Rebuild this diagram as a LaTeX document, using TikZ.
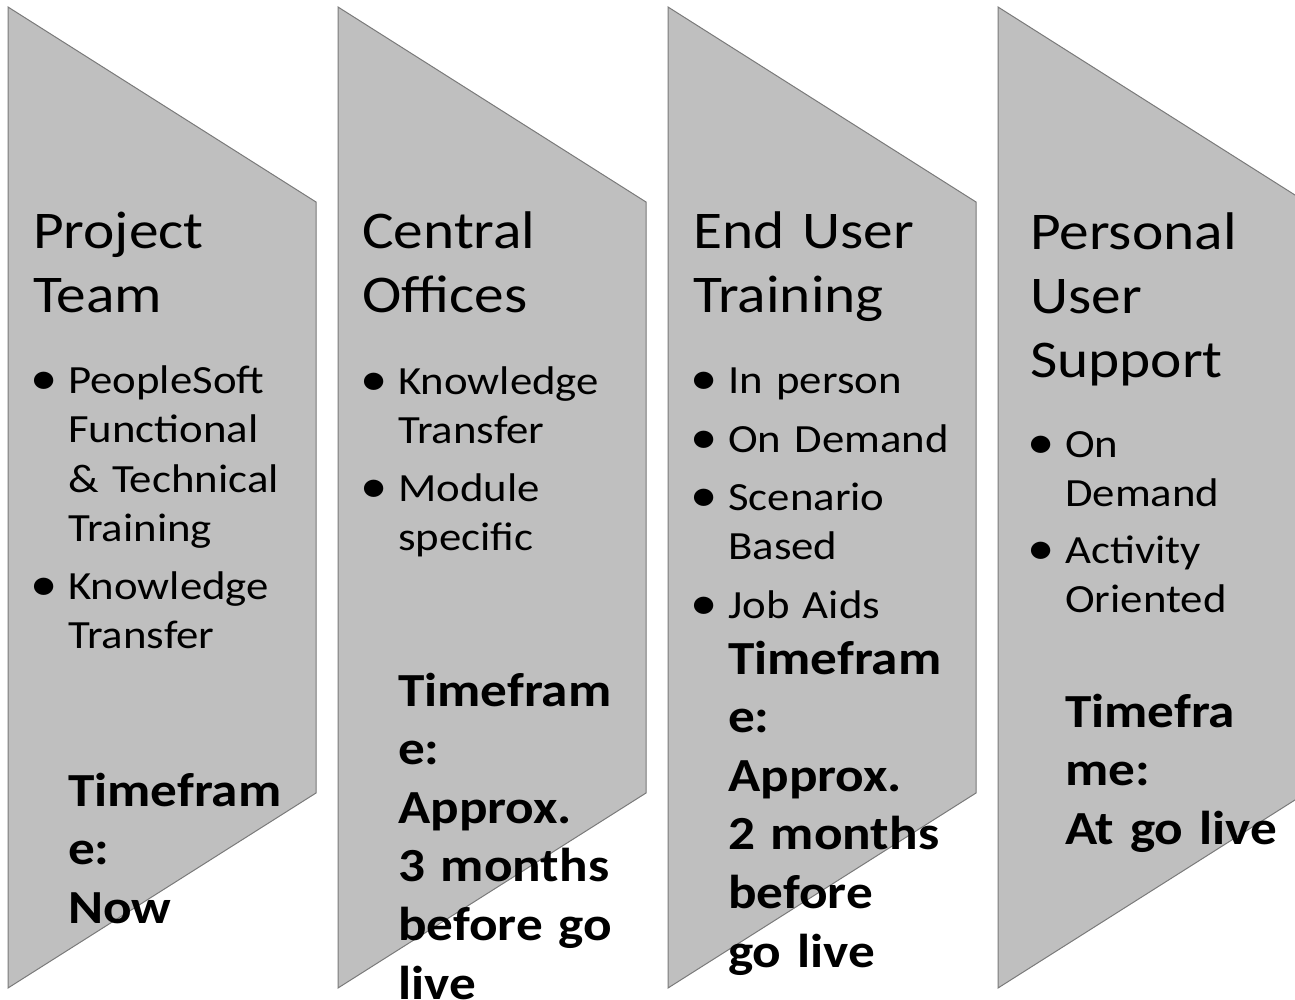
\documentclass[tikz,border=0pt]{standalone}
\usepackage{graphicx}
\usepackage{fontspec}
\setmainfont{Carlito}[FakeStretch=1.12, WordSpace=0.72]
\definecolor{chevfill}{HTML}{BFBFBF}
\definecolor{chevline}{HTML}{7A7A7A}
\tikzset{
  chev/.style={fill=chevfill, draw=chevline, line width=1pt, line join=miter},
  ttl/.style={anchor=base west, inner sep=0pt, text width=300pt, align=left, font=\fontsize{53}{64}\selectfont},
  itm/.style={anchor=base west, inner sep=0pt, text width=300pt, align=left, font=\fontsize{40}{49.5}\selectfont},
  tfr/.style={anchor=base west, inner sep=0pt, text width=300pt, align=left, font=\fontsize{47.5}{58.6}\selectfont\bfseries},
}
\newcommand{\bul}{\llap{\makebox[0pt][c]{\raisebox{-1.5pt}{\scalebox{1.22}{•}}}\hspace{24pt}}}
\begin{document}
\begin{tikzpicture}[x=1pt,y=-1pt]
\useasboundingbox (0,0) rectangle (1295,1000);
\clip (0,0) rectangle (1295,1000);
\foreach \i in {0,1,2,3}{
  \draw[chev] ({8+330*\i},7) -- ({316+330*\i},202) -- ({316+330*\i},793) -- ({8+330*\i},988) -- cycle;
}
% column 1
\node[ttl] (t1) at (33,249) {Project\\Team};
\node[itm] (b11) at (68,393) {\bul PeopleSoft\\Functional\\\& Technical\\Training};
\node[itm] (b12) at (68,599) {\bul Knowledge\\Transfer};
\node[tfr] (f1) at (68,806) {Timefram\\e:\\Now};
% column 2
\node[ttl] (t2) at (362,249) {Central\\Offices};
\node[itm] (b21) at (398,394) {\bul Knowledge\\Transfer};
\node[itm] (b22) at (398,501) {\bul Module\\specific};
\node[tfr] (f2) at (398,706) {Timefram\\e:\\Approx.\\3 months\\before go\\live};
% column 3
\node[ttl] (t3) at (693,249) {End User\\Training};
\node[itm] (b31) at (728,393) {\bul In person};
\node[itm] (b32) at (728,452) {\bul On Demand};
\node[itm] (b33) at (728,510) {\bul Scenario\\Based};
\node[itm] (b34) at (728,618) {\bul Job Aids};
\node[tfr] (f3) at (728,674) {Timefram\\e:\\Approx.\\2 months\\before\\go live};
% column 4
\node[ttl] (t4) at (1030,250) {Personal\\User\\Support};
\node[itm] (b41) at (1065,457) {\bul On\\Demand};
\node[itm] (b42) at (1065,563) {\bul Activity\\Oriented};
\node[tfr] (f4) at (1065,727) {Timefra\\me:\\At go live};
\end{tikzpicture}
\end{document}
